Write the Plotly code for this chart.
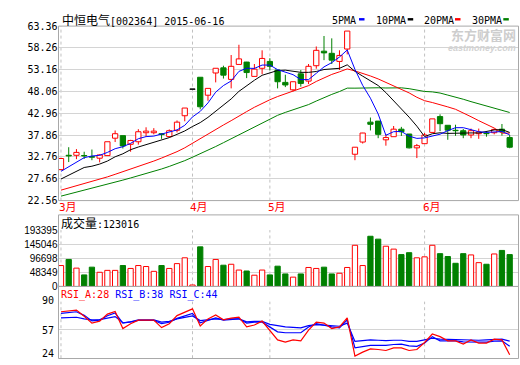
import plotly.graph_objects as go

# ---------------- data ----------------
dates = ["2015-03-09", "2015-03-10", "2015-03-11", "2015-03-12", "2015-03-13",
         "2015-03-16", "2015-03-17", "2015-03-18", "2015-03-19", "2015-03-20",
         "2015-03-23", "2015-03-24", "2015-03-25", "2015-03-26", "2015-03-27",
         "2015-03-30", "2015-03-31",
         "2015-04-17", "2015-04-20", "2015-04-21", "2015-04-22", "2015-04-23",
         "2015-04-24", "2015-04-27", "2015-04-28", "2015-04-29", "2015-04-30",
         "2015-05-04", "2015-05-05", "2015-05-06", "2015-05-07", "2015-05-08",
         "2015-05-11", "2015-05-12", "2015-05-13", "2015-05-14", "2015-05-15",
         "2015-05-18", "2015-05-19", "2015-05-20", "2015-05-21", "2015-05-22",
         "2015-05-25", "2015-05-26", "2015-05-27", "2015-05-28", "2015-05-29",
         "2015-06-01", "2015-06-02", "2015-06-03", "2015-06-04", "2015-06-05",
         "2015-06-08", "2015-06-09", "2015-06-10", "2015-06-11", "2015-06-12",
         "2015-06-15", "2015-06-16"]

opens = [29.8, 33.15, 33.15, 33.1, 32.85, 32.47, 33.08, 37.15, 37.75, 35.72,
         36.32, 38.43, 38.43, 38.2, 37.53, 39.0, 42.4, 48.6, 51.4, 47.2,
         52.4, 53.6, 50.9, 54.4, 54.95, 51.6, 53.5, 55.1, 53.1, 50.2,
         48.46, 52.2, 50.5, 54.1, 57.5, 57.0, 55.1, 58.0, 33.4, 36.25,
         40.9, 41.15, 36.77, 37.5, 39.26, 38.13, 34.89, 35.87, 38.5, 42.2,
         40.17, 39.0, 38.9, 37.9, 38.2, 38.3, 38.43, 39.26, 37.3]
highs = [32.5, 35.04, 34.6, 33.98, 34.5, 33.4, 36.32, 38.96, 37.75, 36.77,
         39.26, 39.7, 39.5, 38.3, 39.2, 41.3, 44.2, 48.6, 51.4, 48.8,
         53.5, 54.1, 56.6, 59.0, 55.0, 54.5, 57.7, 55.85, 53.1, 52.0,
         50.4, 53.1, 54.5, 58.6, 61.05, 60.5, 57.7, 62.2, 35.04, 38.4,
         41.98, 41.15, 38.05, 40.0, 39.8, 38.13, 35.8, 38.36, 41.67, 42.73,
         40.17, 40.3, 39.3, 39.4, 39.4, 38.7, 39.4, 40.47, 37.9]
lows = [29.7, 31.57, 32.25, 32.3, 32.0, 31.5, 33.0, 36.25, 34.74, 33.98,
        35.64, 37.5, 38.05, 37.0, 37.4, 38.5, 41.1, 48.6, 43.9, 45.9,
        50.2, 51.1, 48.8, 54.4, 51.2, 51.6, 52.1, 52.98, 48.8, 49.1,
        48.1, 49.2, 49.8, 53.4, 55.4, 54.5, 53.1, 56.75, 32.0, 35.9,
        38.96, 37.15, 35.4, 37.5, 37.68, 34.74, 32.5, 35.87, 38.5, 38.81,
        36.78, 37.7, 37.15, 37.15, 37.0, 37.5, 38.05, 37.75, 34.8]
closes = [32.4, 33.0, 33.83, 33.0, 32.7, 33.23, 36.32, 38.2, 35.34, 36.62,
          38.66, 38.8, 38.8, 38.0, 38.9, 40.9, 44.2, 48.6, 44.5, 48.8,
          53.5, 51.9, 53.96, 55.7, 52.5, 53.3, 55.8, 53.96, 50.35, 49.6,
          50.35, 49.97, 53.96, 57.7, 57.1, 55.4, 56.5, 62.2, 35.04, 38.36,
          40.4, 38.05, 37.3, 39.26, 38.66, 34.89, 35.4, 37.9, 41.67, 40.54,
          39.03, 38.9, 37.9, 38.9, 38.6, 38.2, 39.2, 38.66, 35.04]
volumes = [71800, 92700, 62900, 39700, 66200, 48600, 55200, 55200, 71800, 61800,
           71800, 68400, 51900, 71800, 61800, 78400, 98300, 5000, 135800, 68400,
           92700, 72900, 76200, 56300, 53000, 38600, 56300, 39700, 69600, 43000,
           32000, 43000, 65100, 61800, 66200, 43000, 45300, 65100, 141300, 71800,
           172200, 162300, 138000, 128100, 109300, 115900, 98300, 101600, 141300, 112600,
           102700, 79500, 112600, 108200, 81700, 76200, 111500, 123600, 109300]

ma5 = [29.4, 30.5, 31.5, 32.6, 32.99, 33.15, 33.82, 34.69, 35.16, 35.94,
       37.03, 37.52, 37.64, 38.18, 38.63, 39.08, 40.16, 42.12, 43.42, 45.4,
       47.92, 49.46, 50.53, 52.77, 53.51, 53.47, 54.25, 54.25, 53.18, 52.6,
       52.01, 50.85, 50.85, 52.32, 53.82, 54.83, 56.13, 57.78, 53.25, 49.5,
       46.5, 42.81, 37.83, 38.67, 38.73, 37.63, 37.1, 37.22, 37.7, 38.08,
       38.91, 39.61, 39.61, 39.05, 38.67, 38.5, 38.56, 38.71, 37.94]
ma10 = [27.6, 28.5, 29.4, 30.3, 30.6, 31.1, 31.8, 32.8, 33.5, 34.46,
        35.09, 35.67, 36.17, 36.67, 37.29, 38.05, 38.84, 39.88, 40.8, 42.02,
        43.5, 44.81, 46.33, 48.1, 49.46, 50.7, 51.86, 52.39, 52.98, 53.06,
        52.74, 52.55, 52.55, 52.75, 53.21, 53.42, 53.49, 54.31, 52.78, 51.66,
        50.66, 49.47, 47.81, 45.96, 44.12, 42.07, 39.96, 37.53, 38.19, 38.41,
        38.27, 38.36, 38.42, 38.38, 38.37, 38.7, 39.08, 39.16, 38.5]
ma20 = [25.0, 25.5, 26.0, 26.5, 27.0, 27.5, 28.1, 28.7, 29.3, 29.9,
        30.5, 31.1, 31.8, 32.5, 33.2, 34.0, 34.9, 36.0, 37.1, 38.24,
        39.3, 40.24, 41.25, 42.38, 43.37, 44.38, 45.35, 46.14, 46.89, 47.54,
        48.12, 48.68, 49.44, 50.42, 51.33, 52.06, 52.67, 53.35, 52.88, 52.36,
        51.7, 51.01, 50.18, 49.36, 48.66, 47.74, 46.72, 45.92, 45.49, 45.03,
        44.47, 43.91, 43.11, 42.17, 41.25, 40.39, 39.52, 38.34, 38.34]
ma30 = [23.6, 24.05, 24.5, 24.95, 25.4, 25.85, 26.35, 26.85, 27.35, 27.85,
        28.35, 28.85, 29.4, 29.95, 30.55, 31.2, 31.9, 32.7, 33.5, 34.3,
        35.2, 36.1, 37.0, 38.0, 38.9, 39.8, 40.8, 41.7, 42.5, 43.18,
        43.78, 44.34, 45.01, 45.84, 46.65, 47.39, 48.06, 48.86, 48.85, 48.91,
        48.97, 48.94, 48.89, 48.94, 48.93, 48.73, 48.43, 48.08, 47.98, 47.71,
        47.23, 46.79, 46.26, 45.7, 45.23, 44.73, 44.18, 43.67, 43.16]

rsi_a = [78.2, 78.9, 80.1, 72.9, 65.0, 67.3, 75.5, 78.6, 58.6, 64.3,
         68.4, 68.4, 68.4, 59.7, 64.3, 73.7, 77.4, 81.6, 61.6, 69.9,
         74.4, 68.8, 70.7, 71.8, 60.5, 62.8, 67.3, 56.7, 45.4, 42.8,
         45.4, 44.3, 56.7, 66.1, 65.0, 58.6, 60.5, 71.0, 26.6, 31.1,
         34.9, 34.2, 33.0, 36.0, 36.0, 33.0, 34.2, 42.4, 52.2, 49.2,
         44.3, 44.3, 40.6, 45.4, 41.7, 41.7, 46.2, 45.4, 28.0]
rsi_b = [76.3, 77.0, 78.2, 74.0, 67.5, 68.5, 73.5, 76.7, 65.0, 66.5,
         68.0, 68.0, 68.0, 64.3, 66.0, 70.5, 73.5, 76.3, 65.2, 68.5,
         71.0, 68.5, 69.5, 70.0, 65.0, 66.1, 66.1, 60.5, 54.8, 53.7,
         54.0, 53.7, 60.5, 64.3, 62.5, 60.5, 59.5, 68.8, 36.0, 37.9,
         39.0, 39.0, 39.0, 40.0, 40.5, 38.5, 37.9, 41.7, 49.2, 44.3,
         44.3, 44.3, 43.0, 42.8, 42.5, 42.8, 44.0, 44.3, 38.0]
rsi_c = [71.0, 71.5, 71.8, 70.0, 68.8, 69.0, 70.5, 72.5, 65.4, 66.5,
         68.8, 68.8, 68.8, 66.1, 67.0, 69.9, 71.5, 73.4, 68.0, 69.0,
         70.0, 69.0, 70.0, 70.0, 66.5, 67.0, 67.0, 63.5, 61.6, 60.5,
         60.0, 59.4, 62.0, 63.1, 62.5, 62.0, 61.3, 65.0, 43.6, 44.5,
         45.4, 45.0, 44.5, 45.0, 45.0, 43.6, 43.6, 45.4, 47.3, 46.2,
         45.8, 45.6, 45.4, 45.4, 45.0, 45.4, 46.0, 46.2, 44.0]

price_ticks = [22.56, 27.66, 32.76, 37.86, 42.96, 48.06, 53.16, 58.26, 63.36]
vol_ticks = [0, 48349, 96698, 145046, 193395]
rsi_ticks = [24, 57, 90]

title_name = "中恒电气"
title_code = "[002364] 2015-06-16"
vol_label = "成交量:123016"
rsi_labels = ["RSI_A:28", "RSI_B:38", "RSI_C:44"]
ma_names = ["5PMA", "10PMA", "20PMA", "30PMA"]

# ---------------- styling / layout helpers ----------------
W, H = 520, 365
RED, GREEN, BLUE, BLACK = "#FF0000", "#008000", "#0000FF", "#000000"
GRID = "#D4D4D4"
FRAME = "#A8A8A8"
MONO = "DejaVu Sans Mono, Noto Sans CJK SC"
CJK = "Noto Sans CJK SC"


def fx(px):
    return px / W


def fy(px):
    return 1 - px / H


X_L, X_R = 58.5, 518.5
MAIN = (20.8, 201.2)
VOL = (231.7, 290.0)
RSI = (305.7, 364.2)
XRANGE = [-0.32, 59.14]

idx = list(range(len(dates)))
fig = go.Figure()

# ---------------- candles ----------------
groups = {"up": ([], RED, "white"), "down": ([], GREEN, GREEN), "flat": ([], BLACK, BLACK)}
for i in idx:
    o, c = opens[i], closes[i]
    key = "up" if c > o else ("down" if c < o else "flat")
    groups[key][0].append(i)

for key, (ids, lc, fc) in groups.items():
    if not ids:
        continue
    wx, wy = [], []
    for i in ids:
        lo_b, hi_b = min(opens[i], closes[i]), max(opens[i], closes[i])
        if lows[i] < lo_b:
            wx += [i, i, None]
            wy += [lows[i], lo_b, None]
        if highs[i] > hi_b:
            wx += [i, i, None]
            wy += [hi_b, highs[i], None]
    if wx:
        fig.add_trace(go.Scatter(x=wx, y=wy, mode="lines", line=dict(color=lc, width=1),
                                 hoverinfo="skip", showlegend=False, xaxis="x", yaxis="y"))
    fig.add_trace(go.Bar(
        x=ids,
        base=[min(opens[i], closes[i]) for i in ids],
        y=[max(abs(closes[i] - opens[i]), 0.06) for i in ids],
        width=0.68, marker=dict(color=fc, line=dict(color=lc, width=1)),
        showlegend=False, xaxis="x", yaxis="y"))

# moving averages
for vals, col in [(ma30, GREEN), (ma20, RED), (ma10, BLACK), (ma5, BLUE)]:
    fig.add_trace(go.Scatter(x=idx, y=vals, mode="lines", line=dict(color=col, width=1),
                             showlegend=False, xaxis="x", yaxis="y"))

# ---------------- volume ----------------
vup = [i for i in idx if closes[i] >= opens[i]]
vdn = [i for i in idx if closes[i] < opens[i]]
fig.add_trace(go.Bar(x=vup, y=[volumes[i] for i in vup], width=0.68,
                     marker=dict(color="white", line=dict(color=RED, width=1)),
                     showlegend=False, xaxis="x2", yaxis="y2"))
fig.add_trace(go.Bar(x=vdn, y=[volumes[i] for i in vdn], width=0.68,
                     marker=dict(color=GREEN, line=dict(color=GREEN, width=1)),
                     showlegend=False, xaxis="x2", yaxis="y2"))

# ---------------- RSI ----------------
for vals, col in [(rsi_c, BLUE), (rsi_b, BLUE), (rsi_a, RED)]:
    fig.add_trace(go.Scatter(x=idx, y=vals, mode="lines", line=dict(color=col, width=1.2),
                             showlegend=False, xaxis="x3", yaxis="y3"))

# ---------------- axes ----------------
xcommon = dict(range=XRANGE, domain=[fx(X_L), fx(X_R)], showticklabels=False,
               showgrid=False, zeroline=False, showline=False, ticks="", fixedrange=True)
ycommon = dict(showgrid=True, gridcolor=GRID, gridwidth=1, zeroline=False, showline=False,
               ticks="", tickfont=dict(family=MONO, size=10, color=BLACK), fixedrange=True)

fig.update_layout(
    width=W, height=H, margin=dict(l=0, r=0, t=0, b=0),
    paper_bgcolor="white", plot_bgcolor="white", barmode="overlay",
    showlegend=False,
    xaxis=dict(**xcommon, anchor="y"),
    xaxis2=dict(**xcommon, anchor="y2", matches="x"),
    xaxis3=dict(**xcommon, anchor="y3", matches="x"),
    yaxis=dict(**ycommon, anchor="x", domain=[fy(MAIN[1]), fy(MAIN[0])],
               range=[price_ticks[0], price_ticks[-1]], tickvals=price_ticks,
               ticktext=["%.2f" % v for v in price_ticks]),
    yaxis2=dict(**{**ycommon, "tickfont": dict(family="Liberation Sans Narrow, Liberation Sans", size=10, color=BLACK)},
                anchor="x2", domain=[fy(VOL[1]), fy(VOL[0])],
                range=[vol_ticks[0], vol_ticks[-1]], tickvals=vol_ticks,
                ticktext=[str(v) for v in vol_ticks]),
    yaxis3=dict(**{**ycommon, "showticklabels": False}, anchor="x3", domain=[fy(RSI[1]), fy(RSI[0])],
                range=[rsi_ticks[0], rsi_ticks[-1]], tickvals=rsi_ticks),
)

shapes = []
ann = []
# month separators (dashed) and labels
prev_m = None
for i, d in enumerate(dates):
    m = int(d[5:7])
    if m != prev_m:
        for (a, b) in [MAIN, VOL, RSI]:
            shapes.append(dict(type="line", xref="x", yref="paper", x0=i, x1=i,
                               y0=fy(b), y1=fy(a), line=dict(color="#C0C0C0", width=1, dash="3px,3px"),
                               layer="below"))
        ann.append(dict(x=i, xref="x", y=fy(208.5), yref="paper", xanchor="left", yanchor="middle",
                        xshift=-4, showarrow=False, text=f"{m}月",
                        font=dict(family=MONO, size=11, color=RED)))
        prev_m = m

# RSI tick labels (bottom one kept inside the picture as in the reference)
for v, ypx in zip(rsi_ticks, [359.0, 335.5, 304.5]):
    ann.append(dict(x=fx(56), y=fy(ypx), xref="paper", yref="paper", xanchor="right", yanchor="middle",
                    showarrow=False, text=str(v), font=dict(family=MONO, size=10, color=BLACK)))

# frames
for (a, b) in [MAIN, (216.0, 290.0), (290.0, 364.5)]:
    shapes.append(dict(type="rect", xref="paper", yref="paper", x0=fx(X_L), x1=fx(X_R),
                       y0=fy(b), y1=fy(a), line=dict(color=FRAME, width=1), layer="above"))

# legend dashes
for x0, col in [(359, BLUE), (407.7, BLACK), (455, RED), (503.3, GREEN)]:
    shapes.append(dict(type="rect", xref="paper", yref="paper", x0=fx(x0), x1=fx(x0 + 5.5),
                       y0=fy(15), y1=fy(12.5), line=dict(width=0), fillcolor=col))

# title
ann.append(dict(x=fx(60), y=fy(14.5), xref="paper", yref="paper", xanchor="left", yanchor="middle",
                showarrow=False,
                text=f"<span style='font-size:12px'>{title_name}</span>{title_code}",
                font=dict(family=MONO, size=10, color=BLACK)))
# legend text
for xl, name in zip([330, 373.5, 421.5, 469.5], ma_names):
    ann.append(dict(x=fx(xl), y=fy(15), xref="paper", yref="paper", xanchor="left", yanchor="middle",
                    showarrow=False, text=name, font=dict(family=MONO, size=10, color=BLACK)))
# watermark
ann.append(dict(x=fx(517), y=fy(29.5), xref="paper", yref="paper", xanchor="right", yanchor="middle",
                showarrow=False, text="<b>东方财富网</b>", borderpad=0,
                font=dict(family=CJK, size=13, color="#CDCDCD")))
ann.append(dict(x=fx(517), y=fy(43.0), xref="paper", yref="paper", xanchor="right", yanchor="middle",
                showarrow=False, text="<b><i>eastmoney.com</i></b>", borderpad=0,
                font=dict(family="Liberation Sans", size=9, color="#D2D2D2")))
# volume label
ann.append(dict(x=fx(59), y=fy(224.5), xref="paper", yref="paper", xanchor="left", yanchor="middle",
                showarrow=False, text=vol_label.replace("成交量", "<span style='font-size:12px'>成交量</span>"),
                font=dict(family=MONO, size=10, color=BLACK)))
# RSI label
ann.append(dict(x=fx(59), y=fy(299), xref="paper", yref="paper", xanchor="left", yanchor="middle",
                showarrow=False,
                text=(f"<span style='color:{RED}'>{rsi_labels[0]}</span> "
                      f"<span style='color:{BLUE}'>{rsi_labels[1]}</span> "
                      f"<span style='color:{BLUE}'>{rsi_labels[2]}</span>"),
                font=dict(family=MONO, size=10, color=BLACK)))

fig.update_layout(shapes=shapes, annotations=ann)
fig.write_html("out.html", config={"displayModeBar": False},
               post_script="document.body.style.margin='0';document.body.style.padding='0';")
